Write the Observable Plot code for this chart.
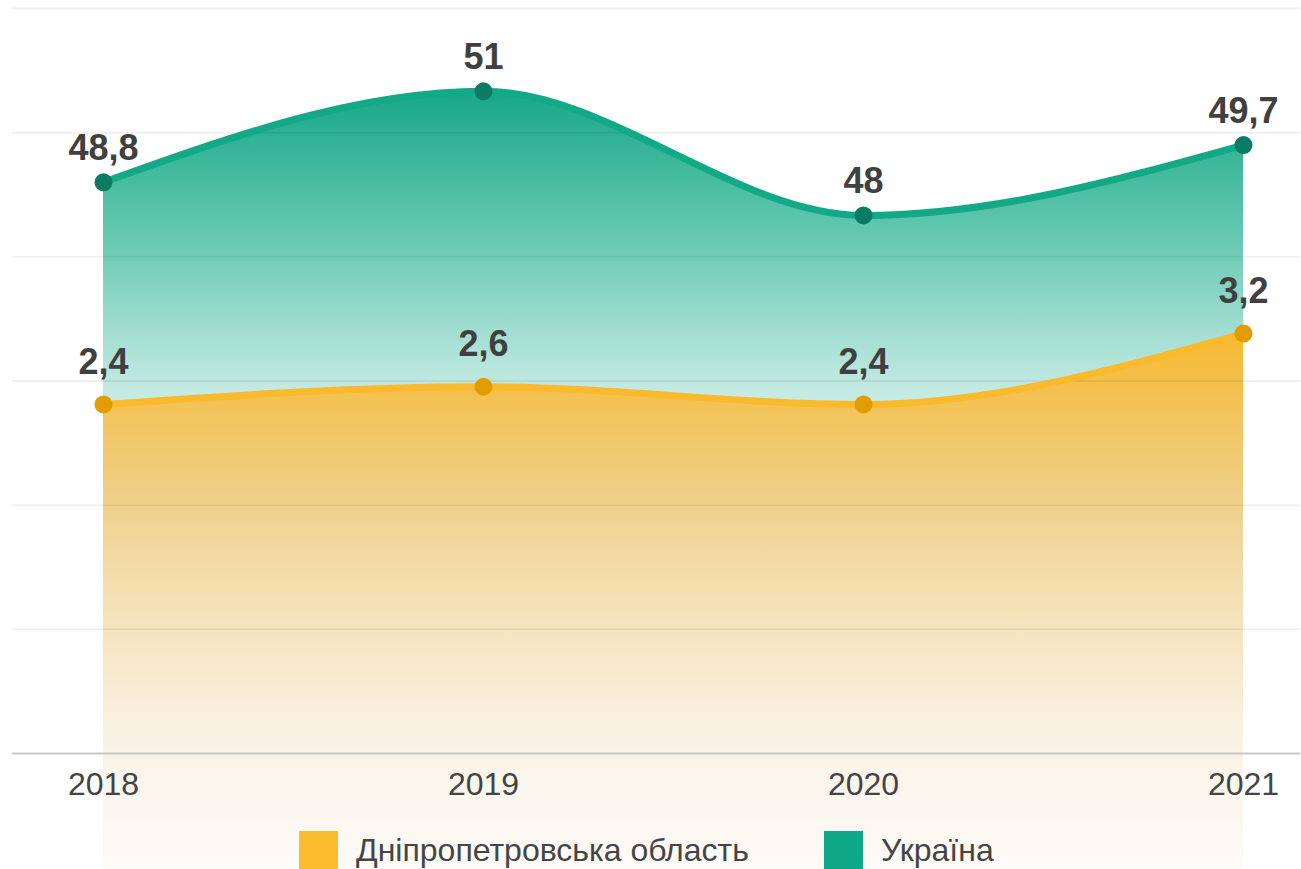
<!DOCTYPE html>
<html>
<head>
<meta charset="utf-8">
<script src="https://cdn.jsdelivr.net/npm/d3@7"></script>
<script src="https://cdn.jsdelivr.net/npm/@observablehq/plot@0.6"></script>
<style>
  body { margin: 0; background: #fff; font-family: "Liberation Sans", Arial, sans-serif; }
  #wrap { position: relative; width: 1301px; height: 869px; overflow: hidden; }
  #legend { position: absolute; left: 299px; top: 831px; display: flex; align-items: center; font-size: 32px; line-height: 38px; color: #454545; }
  .item { display: flex; align-items: center; margin-right: 75px; }
  .sw { width: 39px; height: 38px; margin-right: 18px; }
</style>
</head>
<body>
<div id="wrap"></div>
<script>
// ---- data ----
const years = ["2018", "2019", "2020", "2021"];
const ukraine = [48.8, 51, 48, 49.7];          // Україна
const dnipro = [2.4, 2.6, 2.4, 3.2];           // Дніпропетровська область
const seriesNames = ["Дніпропетровська область", "Україна"];
const seriesColors = ["#fbbc2d", "#10a987"];
// primary (Україна) scale domain and hidden gridline values
const primaryDomain = [35, 53];
const gridTicks = [38, 41, 44, 47, 50, 53];
// secondary (область) axis domain, mapped onto the primary domain
const secondaryDomain = [-1.54, 6.87];

const toPrimary = d3.scaleLinear(secondaryDomain, primaryDomain);
const fmt = v => String(v).replace(".", ",");

const ua = years.map((year, i) => ({year, value: ukraine[i], y: ukraine[i]}));
const dn = years.map((year, i) => ({year, value: dnipro[i], y: toPrimary(dnipro[i])}));

const floor = 32.2; // areas run down behind the axis labels and legend

const defs = () => {
  const ns = "http://www.w3.org/2000/svg";
  const d = document.createElementNS(ns, "defs");
  const grad = (id, stops) => {
    const g = document.createElementNS(ns, "linearGradient");
    g.setAttribute("id", id);
    g.setAttribute("x1", "0"); g.setAttribute("y1", "0");
    g.setAttribute("x2", "0"); g.setAttribute("y2", "1");
    for (const [o, c] of stops) {
      const s = document.createElementNS(ns, "stop");
      s.setAttribute("offset", o);
      s.setAttribute("stop-color", c);
      g.appendChild(s);
    }
    d.appendChild(g);
  };
  grad("gUA", [[0, "#17a886"], [0.18, "#63c7b0"], [0.3, "#9edccf"], [0.39, "#c6ebe3"], [0.6, "#eef9f6"], [1, "#ffffff"]]);
  grad("gDN", [[0, "#f8b92f"], [0.12, "#f3c254"], [0.3, "#efcf86"], [0.5, "#f4e1b5"], [0.7, "#f8eedb"], [0.8, "#faf4e9"], [1, "#fdfbf8"]]);
  return d;
};

const chart = Plot.plot({
  width: 1301,
  height: 869,
  marginTop: 8,
  marginBottom: 116,
  marginLeft: 12,
  marginRight: 1,
  style: {fontFamily: "'Liberation Sans', Arial, sans-serif", background: "transparent", overflow: "visible"},
  x: {type: "point", domain: years, range: [102, 1243], padding: 0, axis: null},
  y: {domain: primaryDomain, axis: null},
  marks: [
    defs,
    Plot.areaY(ua, {x: "year", y1: floor, y2: "y", curve: "monotone-x", fill: "url(#gUA)"}),
    Plot.areaY(dn, {x: "year", y1: floor, y2: "y", curve: "monotone-x", fill: "url(#gDN)"}),
    Plot.gridY(gridTicks, {stroke: "#000", strokeOpacity: 0.06, strokeWidth: 2}),
    Plot.ruleY([primaryDomain[0]], {stroke: "#c8c8c8", strokeWidth: 2}),
    Plot.lineY(ua, {x: "year", y: "y", curve: "monotone-x", stroke: "#12a987", strokeWidth: 7}),
    Plot.lineY(dn, {x: "year", y: "y", curve: "monotone-x", stroke: "#fbb92c", strokeWidth: 7}),
    Plot.dot(ua, {x: "year", y: "y", r: 9, fill: "#0b7c63"}),
    Plot.dot(dn, {x: "year", y: "y", r: 9, fill: "#e09c00"}),
    Plot.text(ua, {x: "year", y: "y", text: d => fmt(d.value), dy: -34, fontSize: 36, fontWeight: "bold", fill: "#404040"}),
    Plot.text(dn, {x: "year", y: "y", text: d => fmt(d.value), dy: -42, fontSize: 36, fontWeight: "bold", fill: "#404040"}),
    Plot.axisX({tickSize: 0, tickPadding: 19, fontSize: 32, fill: "#444", label: null})
  ]
});

const wrap = document.getElementById("wrap");
wrap.appendChild(chart);

const legend = document.createElement("div");
legend.id = "legend";
seriesNames.forEach((name, i) => {
  const item = document.createElement("div");
  item.className = "item";
  const sw = document.createElement("div");
  sw.className = "sw";
  sw.style.background = seriesColors[i];
  const t = document.createElement("span");
  t.textContent = name;
  item.appendChild(sw);
  item.appendChild(t);
  legend.appendChild(item);
});
wrap.appendChild(legend);
</script>
</body>
</html>
